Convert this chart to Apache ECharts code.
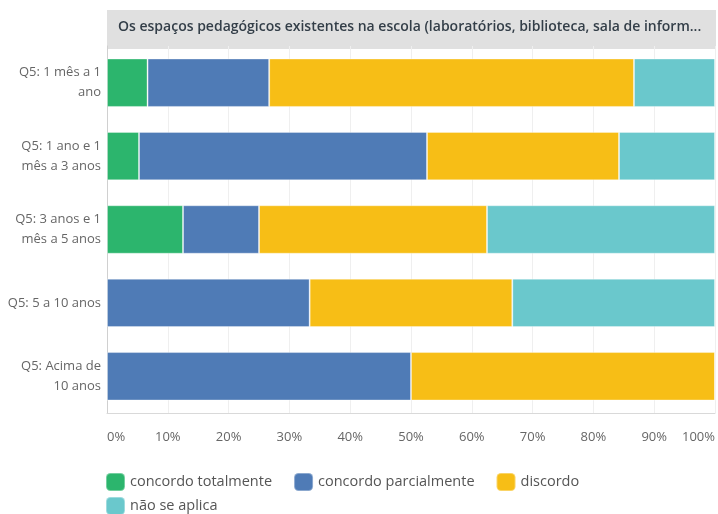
<!DOCTYPE html>
<html>
<head>
<meta charset="utf-8">
<script src="https://cdn.jsdelivr.net/npm/echarts@6/dist/echarts.min.js"></script>
<style>
  html, body { margin: 0; padding: 0; background: #fff; }
  #chart { width: 718px; height: 514px; }
</style>
</head>
<body>
<div id="chart"></div>
<script>
var titleText = 'Os espaços pedagógicos existentes na escola (laboratórios, biblioteca, sala de inform...';
var categories = ['Q5: 1 mês a 1\nano', 'Q5: 1 ano e 1\nmês a 3 anos', 'Q5: 3 anos e 1\nmês a 5 anos', 'Q5: 5 a 10 anos', 'Q5: Acima de\n10 anos'];
var seriesNames = ['concordo totalmente', 'concordo parcialmente', 'discordo', 'não se aplica'];
var seriesColors = ['#2cb56d', '#4f7bb6', '#f7be16', '#6ac8cc'];
// percentuais por faixa
var concordoTotal = [6.67, 5.26, 12.5, 0, 0];
var concordoParcial = [20, 47.37, 12.5, 33.33, 50];
var discordo = [60, 31.58, 37.5, 33.33, 50];
var naoSeAplica = [13.33, 15.79, 37.5, 33.34, 0];
var xTicks = [0, 10, 20, 30, 40, 50, 60, 70, 80, 90, 100];

var allValues = [concordoTotal, concordoParcial, discordo, naoSeAplica];
var fontFamily = '"Open Sans", Roboto, sans-serif';

var myChart = echarts.init(document.getElementById('chart'));

var series = seriesNames.map(function (name, i) {
  return {
    name: name,
    type: 'bar',
    stack: 'total',
    barCategoryGap: '34%',
    itemStyle: {
      color: seriesColors[i],
      borderColor: 'rgba(255,255,255,0.35)',
      borderWidth: 1
    },
    emphasis: { disabled: true },
    data: allValues[i]
  };
});

var legendBase = {
  left: 100,
  itemWidth: 19,
  itemHeight: 18,
  itemGap: 21,
  icon: 'roundRect',
  textStyle: { color: '#555', fontSize: 14.5, fontFamily: fontFamily }
};

var option = {
  backgroundColor: '#fff',
  animation: false,
  textStyle: { fontFamily: fontFamily },
  graphic: [{
    type: 'rect',
    left: 107,
    top: 10,
    shape: { width: 609, height: 39 },
    style: { fill: '#e0e0e0' },
    z: -1
  }],
  title: {
    text: titleText,
    left: 118,
    top: 20,
    padding: 0,
    textStyle: {
      color: '#333e48',
      fontSize: 14,
      fontWeight: 600,
      fontFamily: fontFamily
    }
  },
  legend: [
    Object.assign({}, legendBase, { data: seriesNames.slice(0, 3), top: 467 }),
    Object.assign({}, legendBase, { data: seriesNames.slice(3), top: 491 })
  ],
  grid: {
    left: 107,
    right: 3,
    top: 46,
    bottom: 101,
    containLabel: false
  },
  xAxis: {
    type: 'value',
    min: 0,
    max: 100,
    interval: 10,
    axisLine: { show: true, lineStyle: { color: '#d9d9d9' } },
    axisTick: { show: false },
    splitLine: { show: true, lineStyle: { color: '#efefef' } },
    axisLabel: {
      color: '#666',
      fontSize: 13,
      margin: 18,
      alignMinLabel: 'left',
      alignMaxLabel: 'right',
      formatter: function (v) { return xTicks.indexOf(v) >= 0 ? v + '%' : ''; }
    }
  },
  yAxis: {
    type: 'category',
    inverse: true,
    data: categories,
    axisLine: { show: true, lineStyle: { color: '#d0d0d0' } },
    axisTick: { show: false },
    axisLabel: {
      color: '#666',
      fontSize: 13,
      lineHeight: 20,
      margin: 6,
      align: 'right'
    }
  },
  series: series
};

myChart.setOption(option);
</script>
</body>
</html>
